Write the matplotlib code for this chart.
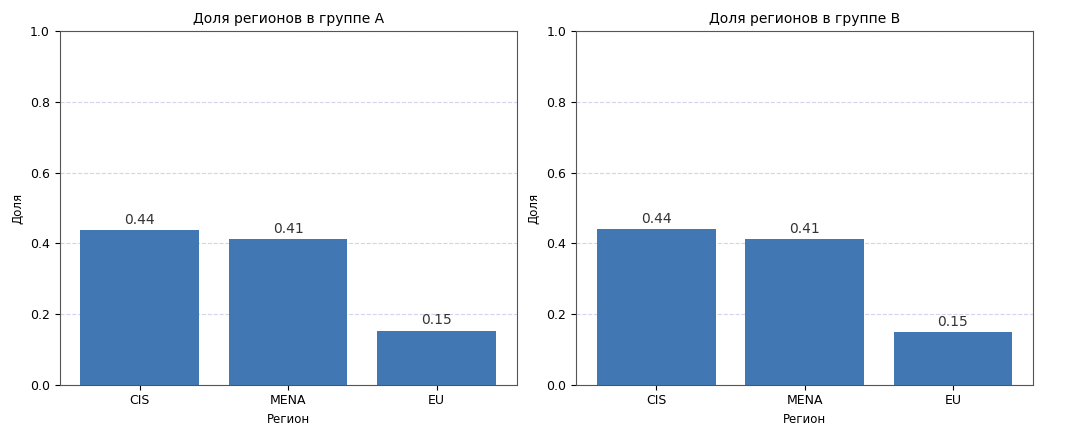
import numpy as np
import matplotlib.pyplot as plt

regions = ['CIS', 'MENA', 'EU']
share_a = [0.437, 0.412, 0.152]
share_b = [0.440, 0.412, 0.148]
titles = ['Доля регионов в группе A', 'Доля регионов в группе B']


def main():
    plt.rcParams['font.size'] = 9
    fig, axes = plt.subplots(1, 2, figsize=(10.84, 4.37), dpi=100)
    fig.subplots_adjust(left=0.055, right=0.953, bottom=0.12, top=0.928, wspace=0.13)

    for ax, shares, title in zip(axes, [share_a, share_b], titles):
        bars = ax.bar(regions, shares, color='#4178b4', width=0.8)
        for b, v in zip(bars, shares):
            ax.text(b.get_x() + b.get_width() / 2, v + 0.01, f'{v:.2f}',
                    ha='center', va='bottom', fontsize=10, color='#333333')
        ax.set_ylim(0, 1.0)
        ax.set_title(title, fontsize=10)
        ax.set_xlabel('Регион', fontsize=8.5)
        ax.set_ylabel('Доля', fontsize=8.5)
        ax.yaxis.grid(True, linestyle='--', color='#c8c8e6', alpha=0.8)
        ax.set_axisbelow(True)
        for s in ax.spines.values():
            s.set_color('#555555')

    fig.savefig('out.png')


if __name__ == '__main__':
    main()
